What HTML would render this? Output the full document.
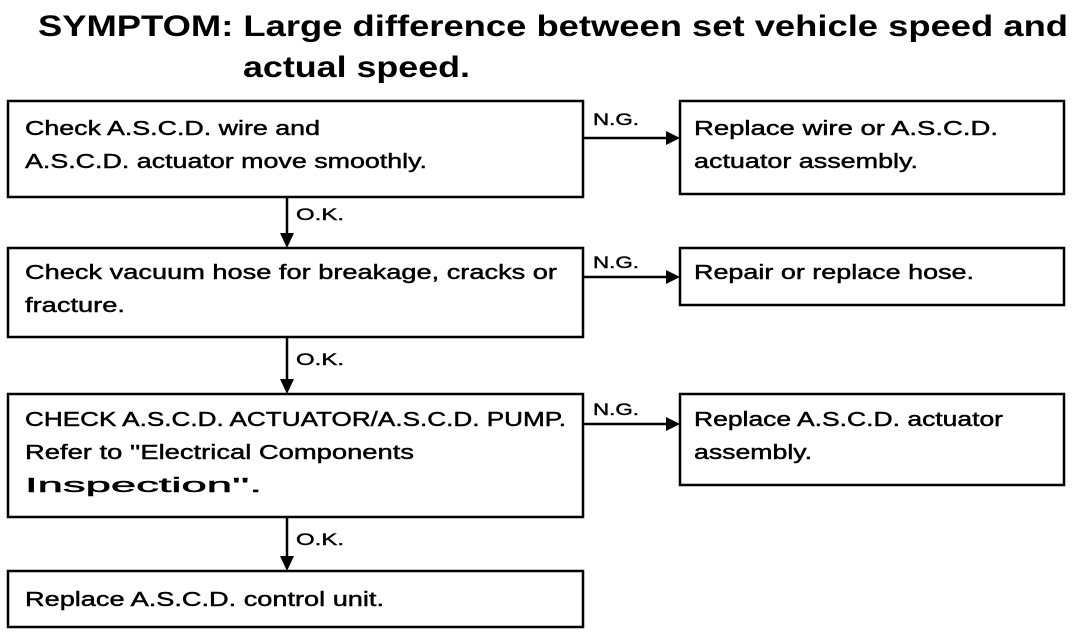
<!DOCTYPE html>
<html><head><meta charset="utf-8"><style>
html,body{margin:0;padding:0;background:#fff;}
svg{display:block;}
text{font-family:"Liberation Sans",Arial,sans-serif;fill:#000;}
.t text{font-size:20px;stroke:#000;stroke-width:0.45px;}
.h{font-size:30px;font-weight:bold;}
.l text{font-size:17px;stroke:#000;stroke-width:0.4px;}
</style></head><body>
<svg width="1088" height="640" viewBox="0 0 1088 640" xmlns="http://www.w3.org/2000/svg">
<text class="h" x="38" y="36" textLength="1030" lengthAdjust="spacingAndGlyphs">SYMPTOM: Large difference between set vehicle speed and</text>
<text class="h" x="243" y="77" textLength="227" lengthAdjust="spacingAndGlyphs">actual speed.</text>
<g fill="none" stroke="#000" stroke-width="2.5">
<rect x="8" y="101" width="575" height="96"/>
<rect x="680" y="101" width="384" height="93"/>
<rect x="8" y="248" width="575" height="89"/>
<rect x="680" y="248" width="384" height="57"/>
<rect x="8" y="394" width="575" height="123"/>
<rect x="680" y="394" width="384" height="91"/>
<rect x="8" y="571" width="575" height="56"/>
<line x1="583" y1="138" x2="668" y2="138"/>
<line x1="583" y1="277" x2="668" y2="277"/>
<line x1="583" y1="424" x2="668" y2="424"/>
<line x1="287" y1="197" x2="287" y2="234"/>
<line x1="287" y1="337" x2="287" y2="380"/>
<line x1="287" y1="517" x2="287" y2="558"/>
</g>
<g fill="#000">
<polygon points="666,131 680,138 666,145"/>
<polygon points="666,270 680,277 666,284"/>
<polygon points="666,417 680,424 666,431"/>
<polygon points="280,233 294,233 287,248"/>
<polygon points="280,379 294,379 287,394"/>
<polygon points="280,556 294,556 287,571"/>
</g>
<g class="l">
<text x="593" y="125" textLength="46" lengthAdjust="spacingAndGlyphs">N.G.</text>
<text x="593" y="268" textLength="46" lengthAdjust="spacingAndGlyphs">N.G.</text>
<text x="593" y="415" textLength="46" lengthAdjust="spacingAndGlyphs">N.G.</text>
<text x="296" y="220" textLength="48" lengthAdjust="spacingAndGlyphs">O.K.</text>
<text x="296" y="365" textLength="48" lengthAdjust="spacingAndGlyphs">O.K.</text>
<text x="296" y="545" textLength="48" lengthAdjust="spacingAndGlyphs">O.K.</text>
</g>
<g class="t">
<text x="25" y="135" textLength="295" lengthAdjust="spacingAndGlyphs">Check A.S.C.D. wire and</text>
<text x="25" y="168" textLength="402" lengthAdjust="spacingAndGlyphs">A.S.C.D. actuator move smoothly.</text>
<text x="694" y="135" textLength="304" lengthAdjust="spacingAndGlyphs">Replace wire or A.S.C.D.</text>
<text x="694" y="168" textLength="224" lengthAdjust="spacingAndGlyphs">actuator assembly.</text>
<text x="25" y="279" textLength="532" lengthAdjust="spacingAndGlyphs">Check vacuum hose for breakage, cracks or</text>
<text x="25" y="312" textLength="100" lengthAdjust="spacingAndGlyphs">fracture.</text>
<text x="694" y="279" textLength="280" lengthAdjust="spacingAndGlyphs">Repair or replace hose.</text>
<text x="25" y="426" textLength="541" lengthAdjust="spacingAndGlyphs">CHECK A.S.C.D. ACTUATOR/A.S.C.D. PUMP.</text>
<text x="25" y="459" textLength="389" lengthAdjust="spacingAndGlyphs">Refer to ''Electrical Components</text>
<text x="25" y="492" textLength="237" lengthAdjust="spacingAndGlyphs">Inspection''.</text>
<text x="694" y="426" textLength="309" lengthAdjust="spacingAndGlyphs">Replace A.S.C.D. actuator</text>
<text x="694" y="459" textLength="118" lengthAdjust="spacingAndGlyphs">assembly.</text>
<text x="25" y="606" textLength="359" lengthAdjust="spacingAndGlyphs">Replace A.S.C.D. control unit.</text>
</g>
</svg>
</body></html>
